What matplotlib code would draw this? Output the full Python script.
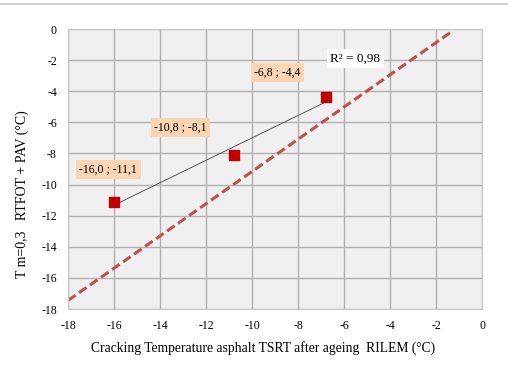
import numpy as np
import matplotlib
matplotlib.use("Agg")
import matplotlib.pyplot as plt
from matplotlib.lines import Line2D

# Données
tsrt = [-16.0, -10.8, -6.8]
tm03 = [-11.1, -8.1, -4.4]
point_labels = ["-16,0 ; -11,1", "-10,8 ; -8,1", "-6,8 ; -4,4"]
label_pos = [(-16.25, -9.05), (-13.1, -6.35), (-8.9, -2.8)]
ref_x = [-18.0, -1.35]
ref_y = [-17.45, -0.2]
r2_text = "R² = 0,98"
ticks = list(range(-18, 1, 2))

plt.rcParams["font.family"] = ["Liberation Serif", "DejaVu Serif"]

fig = plt.figure(figsize=(5.08, 3.67), dpi=100)
ax = fig.add_axes([68 / 508, 1 - 309 / 367, 414 / 508, 280 / 367])
ax.set_facecolor("#f0f0f0")

# ligne grise en haut de la figure
fig.add_artist(Line2D([0, 1], [1 - 4 / 367, 1 - 4 / 367], color="#c8c8c8", lw=1.2))

ax.set_xlim(-18, 0)
ax.set_ylim(-18, 0)
ax.set_xticks(ticks)
ax.set_yticks(ticks)
ax.set_xticklabels([str(t) for t in ticks])
ax.set_yticklabels([str(t) for t in ticks])
ax.tick_params(length=0, labelsize=8.5, pad=8)
ax.grid(True, color="#b0b0b0", lw=1.0)
ax.set_axisbelow(True)
for s in ax.spines.values():
    s.set_color("#c8c8c8")

# ligne de référence (pointillés rouges)
ax.plot(ref_x, ref_y, color="#c0504d", lw=2.2, ls=(0, (3, 1.4)), zorder=2)

# tendance linéaire
a, b = np.polyfit(tsrt, tm03, 1)
xt = np.array([min(tsrt), max(tsrt)])
ax.plot(xt, a * xt + b, color="#404040", lw=0.6, zorder=3)

ax.scatter(tsrt, tm03, marker="s", s=48, color="#c00000", zorder=4)

for txt, (px, py) in zip(point_labels, label_pos):
    ax.text(px, py, txt, ha="center", va="center", fontsize=8.5,
            bbox=dict(boxstyle="square,pad=0.3", fc="#fcd5b4", ec="none"), zorder=5)

ax.text(-5.5, -1.9, r2_text, ha="center", va="center", fontsize=9.5,
        bbox=dict(boxstyle="square,pad=0.25", fc="white", ec="none"), zorder=5)

fig.text(263 / 508, 1 - 348 / 367, "Cracking Temperature asphalt TSRT after ageing  RILEM (°C)",
         ha="center", va="center", fontsize=9.8)
fig.text(22 / 508, 1 - 194 / 367, "T m=0,3   RTFOT + PAV (°C)",
         ha="center", va="center", rotation=90, fontsize=10)

fig.savefig("out.png", dpi=100)
